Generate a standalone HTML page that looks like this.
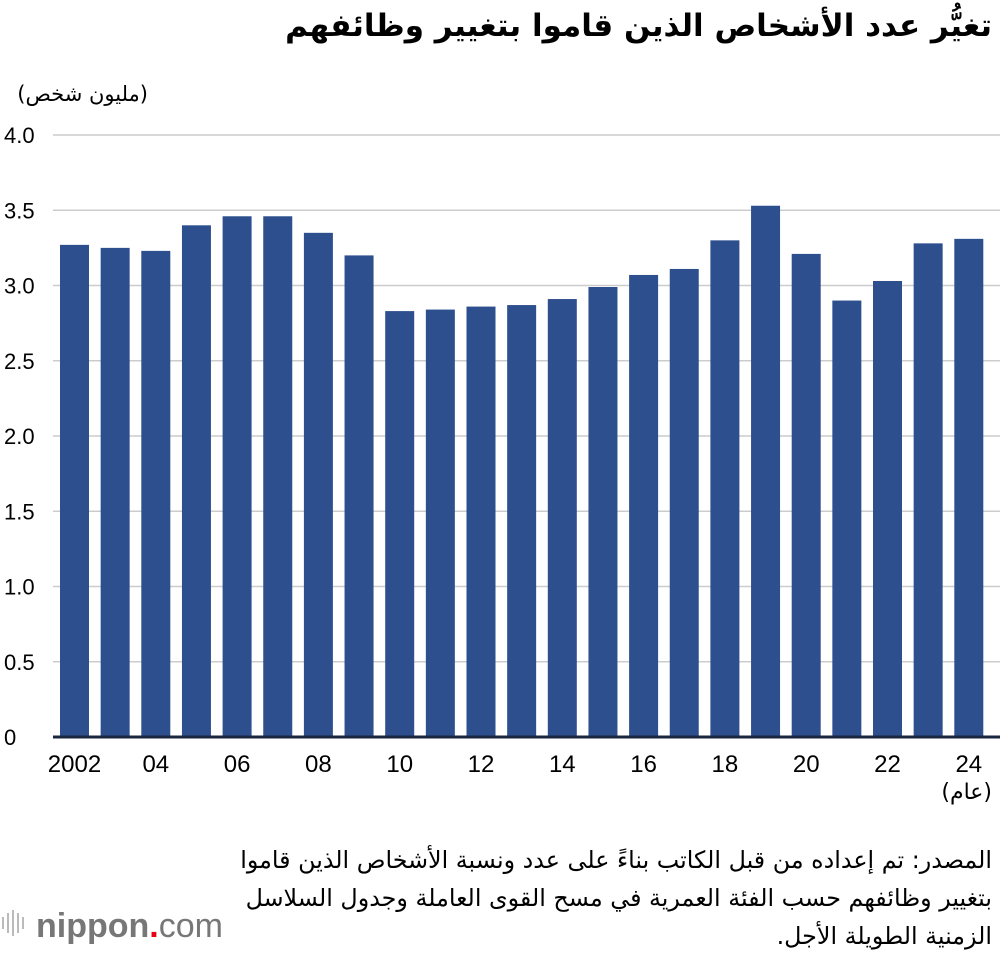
<!DOCTYPE html>
<html><head><meta charset="utf-8"><style>
body{margin:0;background:#fff;width:1000px;height:948px;overflow:hidden;position:relative;font-family:"Liberation Sans","Noto Sans CJK SC",sans-serif;}
.ar{position:absolute;direction:rtl;text-align:right;font-family:"DejaVu Sans","Liberation Sans",sans-serif;color:#000;white-space:nowrap;}
svg{position:absolute;left:0;top:0;}
</style></head><body>
<svg width="1000" height="948" xmlns="http://www.w3.org/2000/svg">
<g id="grid"></g><g id="bars"></g><g id="xt"></g>
<g>
<g fill="#bbb"><rect x="2" y="917" width="2" height="12"/><rect x="7" y="913" width="2" height="20"/><rect x="12" y="910" width="2" height="26"/><rect x="17" y="913" width="2" height="20"/><rect x="22" y="917" width="2" height="12"/></g>
<text x="36" y="937" font-family="Liberation Sans, sans-serif" font-size="34" fill="#777" font-weight="bold">nippon<tspan fill="#e60012">.</tspan><tspan font-weight="normal">com</tspan></text>
</g>
</svg>
<div class="ar" style="right:8px;top:4px;font-size:31px;font-weight:bold;line-height:44px;">تغيُّر عدد الأشخاص الذين قاموا بتغيير وظائفهم</div>
<div class="ar" style="right:852px;top:79px;font-size:21px;line-height:30px;">(مليون شخص)</div>
<div class="ar" style="right:8px;top:777px;font-size:22px;line-height:32px;">(عام)</div>
<div class="ar" style="right:8px;top:841px;font-size:23.8px;line-height:38px;">المصدر: تم إعداده من قبل الكاتب بناءً على عدد ونسبة الأشخاص الذين قاموا<br>بتغيير وظائفهم حسب الفئة العمرية في مسح القوى العاملة وجدول السلاسل<br>الزمنية الطويلة الأجل.</div>
<script>
const years=[2002,2003,2004,2005,2006,2007,2008,2009,2010,2011,2012,2013,2014,2015,2016,2017,2018,2019,2020,2021,2022,2023,2024];
const values=[3.27,3.25,3.23,3.40,3.46,3.46,3.35,3.20,2.83,2.84,2.86,2.87,2.91,2.99,3.07,3.11,3.30,3.53,3.21,2.90,3.03,3.28,3.31];
const yTicks=[0,0.5,1,1.5,2,2.5,3,3.5,4];
const yTickLabels=["0","0.5","1.0","1.5","2.0","2.5","3.0","3.5","4.0"];
const xTickLabels={2002:"2002",2004:"04",2006:"06",2008:"08",2010:"10",2012:"12",2014:"14",2016:"16",2018:"18",2020:"20",2022:"22",2024:"24"};
const NS="http://www.w3.org/2000/svg";
const y=v=>737-v*150.5;
const x=i=>74.5+i*40.65;
const bw=29;
const grid=document.getElementById('grid'),bars=document.getElementById('bars'),xt=document.getElementById('xt');
let axis;
yTicks.forEach((t,i)=>{
 const l=document.createElementNS(NS,'line');
 l.setAttribute('x1',53);l.setAttribute('x2',1000);l.setAttribute('y1',y(t));l.setAttribute('y2',y(t));
 l.setAttribute('stroke',t===0?'#1a2540':'#ccc');l.setAttribute('stroke-width',t===0?3:1.5);
 
 
 if(t===0)axis=l;
 grid.appendChild(l);
 const tx=document.createElementNS(NS,'text');
 tx.setAttribute('x',4);tx.setAttribute('y',y(t)+8);tx.setAttribute('font-size',22);tx.textContent=yTickLabels[i];
 
 
 grid.appendChild(tx);
});
values.forEach((v,i)=>{
 const r=document.createElementNS(NS,'rect');
 r.setAttribute('x',x(i)-bw/2);r.setAttribute('width',bw);r.setAttribute('y',y(v));r.setAttribute('height',737-y(v));
 r.setAttribute('fill','#2e4f8e');
 
 
 bars.appendChild(r);
 if(xTickLabels[years[i]]){
  const tx=document.createElementNS(NS,'text');
  tx.setAttribute('x',x(i));tx.setAttribute('y',772);tx.setAttribute('font-size',24);tx.setAttribute('text-anchor','middle');
  tx.textContent=xTickLabels[years[i]];
  
  
  xt.appendChild(tx);
 }
});
bars.parentNode.insertBefore(axis,xt);
</script>
</body></html>
